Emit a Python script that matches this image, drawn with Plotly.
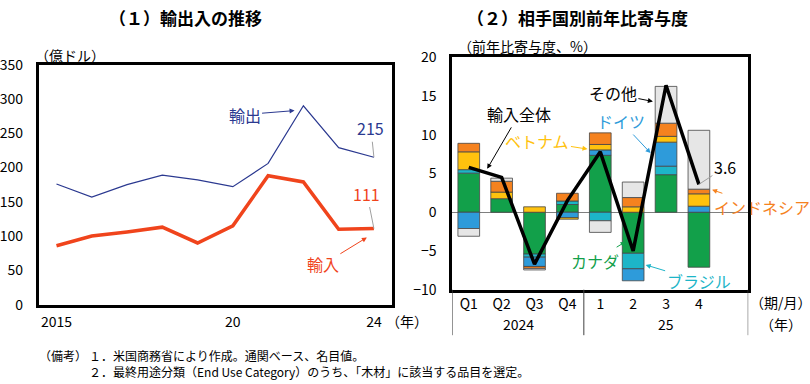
import plotly.graph_objects as go

# ---------------- data ----------------
# (1) exports / imports, 100 million USD
years = [2015, 2016, 2017, 2018, 2019, 2020, 2021, 2022, 2023, 2024]
exports = [176, 157, 175, 189, 182, 172, 206, 290, 229, 215]
imports = [86, 100, 106, 113, 90, 115, 188, 179, 110, 111]
year_tickvals = [2015, 2020, 2024]
year_ticktext = ["2015", "20", "24"]

# (2) contribution by partner country, % y/y
periods = ["Q1", "Q2", "Q3", "Q4", "1", "2", "3", "4"]
period_years = ["2024", "25"]
canada = [5.05, 1.75, -5.4, 1.0, 7.35, -5.3, 4.85, -7.1]
brazil = [0.45, None, -0.4, 0.45, -1.1, -2.0, 1.1, None]
germany = [-2.1, None, -1.2, -0.7, 0.7, -1.55, 3.1, 0.78]
vietnam = [2.3, 0.85, 0.7, -0.2, 0.7, 0.7, 0.75, 1.6]
indonesia = [1.1, 1.4, -0.25, 1.0, 1.5, 1.2, 1.7, 0.6]
others = [-1.0, 0.4, -0.2, None, -1.5, 2.0, 4.75, 7.6]
total = [5.8, 4.5, -6.7, 1.5, 7.8, -5.0, 16.4, 3.6]

# ---------------- styling ----------------
W, H = 810, 384
FONT = "Noto Sans CJK JP"
C_EXP = "#2B3990"
C_IMP = "#F0441C"
C_GREEN = "#12A04A"
C_CYAN = "#1DB5C8"
C_BLUE = "#2E9BDA"
C_YELLOW = "#FFC20E"
C_ORANGE = "#F5821F"
C_GREY = "#E6E6E6"


def px(x):
    return x / W


def py(y):
    return 1 - y / H


fig = go.Figure()

# left chart
fig.add_trace(go.Scatter(x=years, y=exports, mode="lines",
                         line=dict(color=C_EXP, width=1.2),
                         xaxis="x", yaxis="y", showlegend=False))
fig.add_trace(go.Scatter(x=years, y=imports, mode="lines",
                         line=dict(color=C_IMP, width=3.5),
                         xaxis="x", yaxis="y", showlegend=False))

# right chart
idx = list(range(len(periods)))
series = [
    ("カナダ", canada, C_GREEN),
    ("ブラジル", brazil, C_CYAN),
    ("ドイツ", germany, C_BLUE),
    ("ベトナム", vietnam, C_YELLOW),
    ("インドネシア", indonesia, C_ORANGE),
    ("その他", others, C_GREY),
]
for name, vals, color in series:
    fig.add_trace(go.Bar(x=idx, y=vals, name=name, width=0.66,
                         marker=dict(color=color, line=dict(color="#454545", width=0.8)),
                         xaxis="x2", yaxis="y2", showlegend=False))
fig.add_trace(go.Scatter(x=idx, y=total, mode="lines",
                         line=dict(color="black", width=3.5),
                         xaxis="x2", yaxis="y2", showlegend=False))

axis_common = dict(showline=True, linewidth=3, linecolor="black", mirror=True,
                   showgrid=False, zeroline=False,
                   tickcolor="rgba(0,0,0,0)",
                   tickfont=dict(family=FONT, size=14, color="black"))

fig.update_layout(
    width=W, height=H, autosize=False,
    margin=dict(l=0, r=0, t=0, b=0),
    paper_bgcolor="white", plot_bgcolor="white",
    barmode="relative",
    font=dict(family=FONT, color="black"),
    xaxis=dict(domain=[px(36), px(390)], range=[2014.5, 2024.5],
               tickvals=year_tickvals, ticktext=year_ticktext,
               ticks="outside", ticklen=3, anchor="y", **axis_common),
    yaxis=dict(domain=[py(309.8), py(56.6)], range=[0, 350], dtick=50,
               ticks="outside", ticklen=10, anchor="x", **axis_common),
    xaxis2=dict(domain=[px(451), px(748)], range=[-0.5, 8.5],
                tickvals=idx, ticktext=periods, ticks="",
                anchor="y2", **axis_common),
    yaxis2=dict(domain=[py(294.0), py(48.9)], range=[-10, 20], dtick=5,
                ticks="outside", ticklen=10, anchor="x2",
                **{k: v for k, v in axis_common.items() if k != "zeroline"},
                zeroline=True, zerolinecolor="#7F7F7F", zerolinewidth=1),
)

ann = []


def txt(x, y, text, size=14, color="black", xanchor="center", xref="paper", yref="paper", **kw):
    ann.append(dict(x=x, y=y, xref=xref, yref=yref, text=text, showarrow=False,
                    xanchor=xanchor, yanchor="middle",
                    font=dict(family=FONT, size=size, color=color), **kw))


def arrow(x, y, ax, ay, text, color, xref, yref, size=16, head=2, acolor=None):
    ann.append(dict(x=x, y=y, xref=xref, yref=yref, ax=ax, ay=ay, text=text,
                    showarrow=True, arrowhead=head, arrowsize=1, arrowwidth=1,
                    arrowcolor=acolor or color,
                    font=dict(family=FONT, size=size, color=color)))


# titles
txt(px(183), py(7), "<b>（１）輸出入の推移</b>", size=17)
txt(px(577), py(7), "<b>（２）相手国別前年比寄与度</b>", size=17)
# unit labels
txt(px(30), py(46), "（億ドル）", size=14, xanchor="left")
txt(px(455), py(37), "（前年比寄与度、%）", size=14, xanchor="left")
# left x-axis year suffix
txt(px(382), py(327), "（年）", size=14, xanchor="left")
# right axis labels
txt(1.5, py(330), period_years[0], size=14, xref="x2")
txt(6, py(330), period_years[1], size=14, xref="x2")
txt(px(781), py(307.5), "（期/月）", size=14)
txt(px(781), py(330), "（年）", size=14)
# notes
txt(px(34), py(363), "（備考）", size=12, xanchor="left")
txt(px(84), py(363), "１．米国商務省により作成。通関ベース、名目値。", size=12, xanchor="left")
txt(px(84), py(380), "２．最終用途分類（End Use Category）のうち、「木材」に該当する品目を選定。", size=12, xanchor="left")

# left chart labels
arrow(2021.75, 283, -50, 4, "輸出", C_EXP, "x", "y", size=16)
arrow(2023.8, 98, -44, 27, "輸入", C_IMP, "x", "y", size=16)
arrow(years[-1], exports[-1], -3, -29, str(exports[-1]), C_EXP, "x", "y", size=16, head=0, acolor="#A0A0A0")
arrow(years[-1], imports[-1], -7, -35, str(imports[-1]), C_IMP, "x", "y", size=16, head=0, acolor="#A0A0A0")

# right chart labels
arrow(0.56, 5.6, 32, -55, "輸入全体", "black", "x2", "y2")
arrow(3.61, 8.15, -50, -8, "ベトナム", C_YELLOW, "x2", "y2")
arrow(5.53, 7.64, -30, -32, "ドイツ", C_BLUE, "x2", "y2")
arrow(5.6, 14.3, -40, -8, "その他", "black", "x2", "y2")
arrow(7.0, total[-1], 26, -17, "3.6", "black", "x2", "y2", head=0, acolor="#A0A0A0")
arrow(7.4, 2.9, 50, 17, "インドネシア", C_ORANGE, "x2", "y2")
arrow(4.77, -3.8, -31, 19, "カナダ", C_GREEN, "x2", "y2")
arrow(5.38, -6.8, 53, 16, "ブラジル", C_CYAN, "x2", "y2")

fig.update_layout(annotations=ann)

# group dividers under right x-axis
shapes = []
for xv in [-0.5, 3.5, 8.5]:
    shapes.append(dict(type="line", xref="x2", yref="paper", x0=xv, x1=xv,
                       y0=py(294.0), y1=py(342), line=dict(color="#404040", width=1)))
fig.update_layout(shapes=shapes)

fig.write_html("out.html",
               config={"responsive": False, "displayModeBar": False},
               post_script="document.body.style.margin='0px';")
